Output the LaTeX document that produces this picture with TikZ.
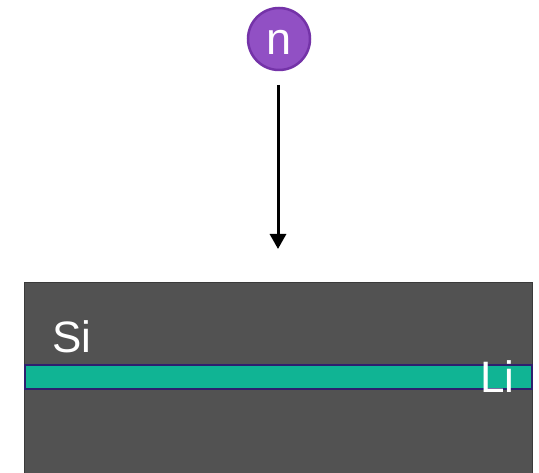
\documentclass[tikz,border=0pt]{standalone}
\usepackage{fontspec}
\setmainfont{Liberation Sans}
\usetikzlibrary{arrows.meta}
\definecolor{slab}{HTML}{525252}
\definecolor{slabedge}{HTML}{3A3A3A}
\definecolor{liteal}{HTML}{10B494}
\definecolor{liedge}{HTML}{2E1F6E}
\definecolor{nfill}{HTML}{9150C4}
\definecolor{nedge}{HTML}{7433A8}
\tikzset{
  neutron/.style={circle, fill=nfill, draw=nedge, line width=2.5pt, minimum size=62pt, inner sep=0pt, text=white},
  lbl/.style={text=white, font=\fontsize{44}{44}\selectfont, inner sep=0pt, anchor=base west},
  beam/.style={line width=3pt, -{Triangle[width=16pt,length=15pt]}}
}
\begin{document}
\begin{tikzpicture}[x=1pt,y=-1pt]
\useasboundingbox (0,0) rectangle (539,473);
\fill[white] (0,0) rectangle (539,473);
\draw[fill=slab, draw=slabedge, line width=1pt] (24.5,282.5) rectangle (532,475);
\draw[fill=liteal, draw=liedge, line width=1.2pt] (25,365) rectangle (532,389);
\node[lbl] (si) at (52,353) {Si};
\node[lbl] (li) at (480,393) {Li};
\node[neutron] (n) at (279,39) {};
\node[text=white, font=\fontsize{45}{45}\selectfont, inner sep=0pt, anchor=base] (nl) at (279,55) {n};
\coordinate (tip) at (278,249);
\draw[beam] (278,85) -- (tip);
\end{tikzpicture}
\end{document}
